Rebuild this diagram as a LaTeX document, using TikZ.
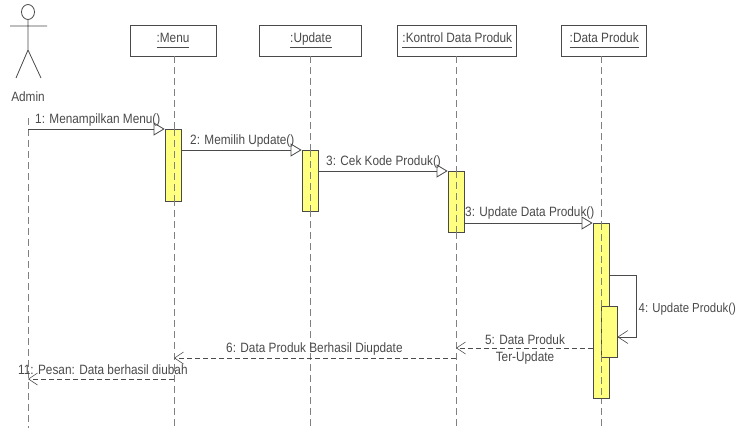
\documentclass[tikz,border=0pt]{standalone}
\usepackage{fontspec}
\setmainfont{Liberation Sans}
\usepackage{tikz}
\usetikzlibrary{arrows.meta,positioning,calc,shapes.geometric}

\definecolor{barfill}{HTML}{FFFF80}
\definecolor{inkgray}{HTML}{4A4A4A}

\newcommand{\msgfont}{\fontsize{13.5}{17}\selectfont\addfontfeatures{FakeStretch=0.875}}
\newcommand{\objname}[1]{\underline{\vphantom{Ap}#1}}

\begin{document}
\begin{tikzpicture}[
  x=1pt, y=-1pt,
  obj/.style={rectangle, draw=inkgray, fill=white, line width=0.9pt, minimum height=31pt,
              inner sep=0pt, font=\msgfont, text=inkgray},
  life/.style={dashed, dash pattern=on 7pt off 4pt, draw=gray, line width=0.9pt},
  bar/.style={rectangle, draw=inkgray, fill=barfill, line width=0.8pt, minimum width=16pt,
              inner sep=0pt, anchor=north},
  call/.style={draw=inkgray, line width=0.8pt, -{Triangle[open,fill=white,length=11pt,width=13pt]}},
  back/.style={draw=black!70, line width=0.7pt, dashed, dash pattern=on 5pt off 3pt,
               -{Straight Barb[length=9pt,width=12pt,line width=0.6pt]}},
  lbl/.style={font=\msgfont, text=inkgray, inner sep=0pt},
  node distance=43pt
]
  \useasboundingbox (0,0) rectangle (738,428);

  % actor
  \node[ellipse, draw=inkgray, line width=0.8pt, minimum width=13pt, minimum height=15pt, inner sep=0pt] (Head) at (28,12) {};
  \coordinate (Hip) at (28,50);
  \coordinate (ArmL) at (10,26);
  \coordinate (ArmR) at (47,26);
  \coordinate (LegL) at (16,78);
  \coordinate (LegR) at (41,78);
  \draw[draw=inkgray, line width=0.8pt] (Head) -- (Hip) (ArmL) -- (ArmR) (LegL) -- (Hip) -- (LegR);
  \node[lbl] (Admin) at (28,97) {Admin};

  % objects
  \node[obj, minimum width=86pt] (Menu) at (173,40.5) {\objname{:Menu}};
  \node[obj, minimum width=102pt, right=of Menu] (Update) {\objname{:Update}};
  \node[obj, minimum width=119pt, right=35pt of Update] (Kontrol) {\objname{:Kontrol Data Produk}};
  \node[obj, minimum width=85pt, right=44pt of Kontrol] (Data) {\objname{:Data Produk}};

  % lifelines
  \coordinate (AdminTop) at (28,118);
  \coordinate (AdminEnd) at (28,428);
  \coordinate (MenuEnd) at (174,428);
  \coordinate (UpdateEnd) at (310,428);
  \coordinate (KontrolEnd) at (456,428);
  \coordinate (DataEnd) at (601,428);
  \draw[life] (AdminTop) -- (AdminEnd);
  \draw[life] (Menu.south -| MenuEnd) -- (MenuEnd);
  \draw[life] (Update.south -| UpdateEnd) -- (UpdateEnd);
  \draw[life] (Kontrol.south -| KontrolEnd) -- (KontrolEnd);
  \draw[life] (Data.south -| DataEnd) -- (DataEnd);

  % activations
  \node[bar, minimum height=72pt] (BarMenu) at (173,129) {};
  \node[bar, minimum height=61pt] (BarUpdate) at (310,150) {};
  \node[bar, minimum height=61pt] (BarKontrol) at (456,171) {};
  \node[bar, minimum height=175pt] (BarData) at (601,223) {};
  \node[bar, minimum height=51pt] (BarSelf) at (609,306) {};
  \draw[life] (BarMenu.north -| MenuEnd) -- (BarMenu.south -| MenuEnd);
  \draw[life] (BarUpdate.north) -- (BarUpdate.south);
  \draw[life] (BarKontrol.north) -- (BarKontrol.south);
  \draw[life] (BarData.north) -- (BarData.south);

  % messages
  \draw[call] (AdminTop |- BarMenu.north) -- (BarMenu.north west);
  \draw[call] (BarMenu.east |- BarUpdate.north) -- (BarUpdate.north west);
  \draw[call] (BarUpdate.east |- BarKontrol.north) -- (BarKontrol.north west);
  \draw[call] (BarKontrol.east |- BarData.north) -- (BarData.north west);
  \coordinate (SelfA) at (636,275);
  \coordinate (SelfB) at (636,337);
  \draw[draw=inkgray, line width=0.8pt, -{Straight Barb[length=10pt,width=13pt,line width=0.6pt]}]
    (BarData.east |- SelfA) -- (SelfA) -- (SelfB) -- (BarSelf.east |- SelfB);
  \coordinate (RetA) at (593,348);
  \coordinate (RetB) at (456,358);
  \coordinate (RetC) at (174,379);
  \draw[back] (BarData.west |- RetA) -- (KontrolEnd |- RetA);
  \draw[back] (KontrolEnd |- RetB) -- (MenuEnd |- RetB);
  \draw[back] (MenuEnd |- RetC) -- (AdminEnd |- RetC);

  % labels
  \node[lbl, anchor=west] (L1) at (35,120) {1: Menampilkan Menu()};
  \node[lbl, anchor=west] (L2) at (190,141) {2: Memilih Update()};
  \node[lbl, anchor=west] (L3) at (326,162) {3: Cek Kode Produk()};
  \node[lbl, anchor=west] (L4) at (465,213) {3: Update Data Produk()};
  \node[lbl, anchor=west, font=\fontsize{13}{17}\selectfont\addfontfeatures{FakeStretch=0.875}] (L5) at (638.5,309) {4: Update Produk()};
  \node[lbl, align=center] (L6) at (525,350) {5: Data Produk\\Ter-Update};
  \node[lbl, anchor=west] (L7) at (226,349) {6: Data Produk Berhasil Diupdate};
  \node[lbl, anchor=west] (L8) at (18,370) {11: Pesan: Data berhasil diubah};
\end{tikzpicture}
\end{document}
